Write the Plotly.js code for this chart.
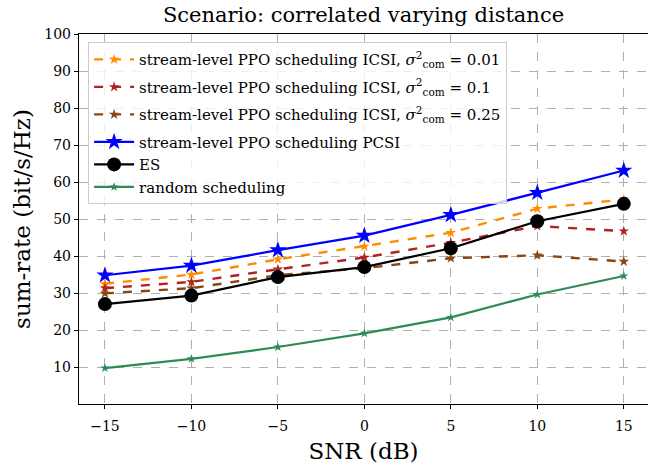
<!DOCTYPE html>
<html>
<head>
<meta charset="utf-8">
<script src="https://cdn.plot.ly/plotly-3.0.1.min.js"></script>
<style>html,body{margin:0;padding:0;background:#fff;}#chart{width:648px;height:464px;}</style>
</head>
<body>
<div id="chart"></div>
<script>
const snr = [-15, -10, -5, 0, 5, 10, 15];
const icsi001 = [32.5, 35.0, 39.1, 42.6, 46.3, 52.8, 55.3];
const icsi01 = [31.3, 33.0, 36.4, 39.6, 43.6, 48.1, 46.7];
const icsi025 = [29.9, 31.3, 34.8, 36.7, 39.4, 40.2, 38.5];
const pcsi = [34.8, 37.4, 41.6, 45.5, 51.1, 57.1, 63.1];
const es = [27.0, 29.3, 34.3, 37.0, 42.1, 49.4, 54.1];
const randomSched = [9.7, 12.2, 15.4, 19.1, 23.4, 29.6, 34.6];
const xTickLabels = ["\u221215", "\u221210", "\u22125", "0", "5", "10", "15"];
const yTicks = [10, 20, 30, 40, 50, 60, 70, 80, 90, 100];

const names = [
  "stream-level PPO scheduling ICSI, <i>σ</i><sup>2</sup><sub>com</sub> = 0.01",
  "stream-level PPO scheduling ICSI, <i>σ</i><sup>2</sup><sub>com</sub> = 0.1",
  "stream-level PPO scheduling ICSI, <i>σ</i><sup>2</sup><sub>com</sub> = 0.25",
  "stream-level PPO scheduling PCSI",
  "ES",
  "random scheduling"
];

const serif = "DejaVu Serif, Liberation Serif, serif";

const traces = [
  {x: snr, y: icsi001, name: names[0], mode: "lines+markers", legendgroup: "g1",
   line: {color: "#ff8c00", width: 2.4, dash: "dash"}, marker: {symbol: "star", size: 8, color: "#ff8c00"}},
  {x: snr, y: icsi01, name: names[1], mode: "lines+markers", legendgroup: "g2",
   line: {color: "#b22222", width: 2.4, dash: "dash"}, marker: {symbol: "star", size: 8, color: "#b22222"}},
  {x: snr, y: icsi025, name: names[2], mode: "lines+markers", legendgroup: "g3",
   line: {color: "#8b4513", width: 2.4, dash: "dash"}, marker: {symbol: "star", size: 8, color: "#8b4513"}},
  {x: snr, y: pcsi, name: names[3], mode: "lines+markers", legendgroup: "g4",
   line: {color: "#0000ff", width: 2.2}, marker: {symbol: "star", size: 13, color: "#0000ff"}},
  {x: snr, y: es, name: names[4], mode: "lines+markers", legendgroup: "g4",
   line: {color: "#000000", width: 2.2}, marker: {symbol: "circle", size: 14, color: "#000000"}},
  {x: snr, y: randomSched, name: names[5], mode: "lines+markers", legendgroup: "g4",
   line: {color: "#2e8b57", width: 2.2}, marker: {symbol: "star", size: 7, color: "#2e8b57"}}
];

const layout = {
  width: 648, height: 464,
  margin: {l: 79, r: 0, t: 34, b: 60},
  paper_bgcolor: "#fff", plot_bgcolor: "#fff",
  font: {family: serif, color: "#000", size: 14},
  title: {text: "Scenario: correlated varying distance", font: {family: serif, size: 21, color: "#000"},
          x: 0.5, xref: "paper", xanchor: "center", y: 0.985, yanchor: "top"},
  xaxis: {
    range: [-16.5, 16.4], tickvals: snr, ticktext: xTickLabels,
    showline: true, linecolor: "#000", linewidth: 1.2, mirror: true,
    ticks: "outside", ticklen: 4, tickcolor: "#000", ticklabelstandoff: 5,
    showgrid: true, gridcolor: "#b0b0b0", griddash: "dash", gridwidth: 1,
    zeroline: false, tickfont: {size: 14, family: serif},
    title: {text: "SNR (dB)", font: {size: 23, family: serif}, standoff: 9}
  },
  yaxis: {
    range: [0, 100], tickvals: yTicks,
    showline: true, linecolor: "#000", linewidth: 1.2, mirror: true,
    ticks: "outside", ticklen: 4, tickcolor: "#000",
    showgrid: true, gridcolor: "#b0b0b0", griddash: "dash", gridwidth: 1,
    zeroline: false, tickfont: {size: 14, family: serif},
    title: {text: "sum-rate (bit/s/Hz)", font: {size: 23, family: serif}, standoff: 7}
  },
  legend: {
    x: 0.016, y: 0.978, xanchor: "left", yanchor: "top",
    bgcolor: "rgba(255,255,255,0.8)", bordercolor: "#cccccc", borderwidth: 1,
    font: {size: 15, family: serif, color: "#000"}, tracegroupgap: 5, itemwidth: 40,
    traceorder: "grouped"
  },
  showlegend: true
};

Plotly.newPlot("chart", traces, layout, {displayModeBar: false, staticPlot: true});
</script>
</body>
</html>
